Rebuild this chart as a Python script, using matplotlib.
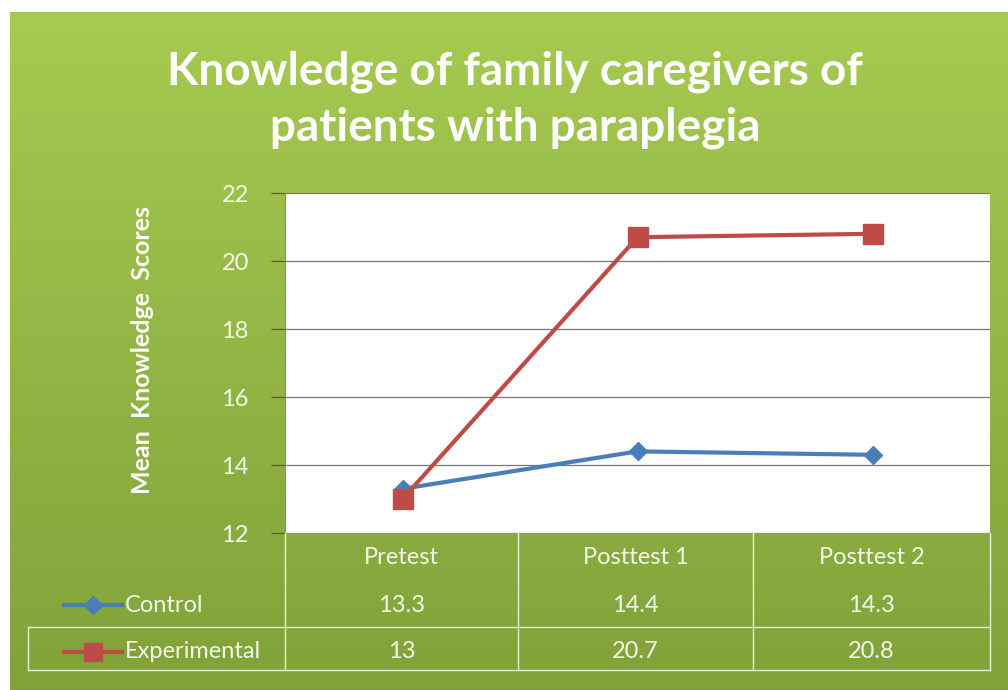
import numpy as np
import matplotlib.pyplot as plt
from matplotlib.lines import Line2D

categories = ["Pretest", "Posttest 1", "Posttest 2"]
control = [13.3, 14.4, 14.3]
experimental = [13.0, 20.7, 20.8]
control_labels = ["13.3", "14.4", "14.3"]
experimental_labels = ["13", "20.7", "20.8"]
yticks = [12, 14, 16, 18, 20, 22]
title = "Knowledge of family caregivers of\npatients with paraplegia"
ylabel = "Mean  Knowledge  Scores"

W, H = 1008, 690
fig = plt.figure(figsize=(W / 100, H / 100), dpi=100)
plt.rcParams['font.family'] = ['Lato', 'DejaVu Sans']

def fx(x):
    return x / W

def fy(y):
    return 1 - y / H

# gradient background
bg = fig.add_axes([fx(10), 0, fx(W - 10), fy(12)])
bg.set_axis_off()
top = np.array([0.655, 0.792, 0.318])
bot = np.array([0.502, 0.635, 0.224])
t = np.linspace(0, 1, 256)[:, None, None]
grad = top * (1 - t) + bot * t
grad = np.repeat(grad, 4, axis=1)
bg.imshow(grad, aspect='auto', extent=[0, 1, 0, 1], origin='upper')
bg.set_xlim(0, 1)
bg.set_ylim(0, 1)

txtc = '#f4f8e8'
fig.text(fx(515), fy(100), title, ha='center', va='center', color='white',
         fontsize=33, fontweight='bold', linespacing=1.4)

# plot area
x0, x1, y0, y1 = 285, 990, 193, 533
ax = fig.add_axes([fx(x0), fy(y1), fx(x1 - x0), (y1 - y0) / H])
ax.set_facecolor('white')
ax.plot(range(3), control, color='#4a7ebb', lw=3, marker='D', ms=9,
        markerfacecolor='#4a7ebb', zorder=3)
ax.plot(range(3), experimental, color='#be4b48', lw=3, marker='s', ms=14,
        markerfacecolor='#be4b48', zorder=4)
ax.set_xlim(-0.5, 2.5)
ax.set_ylim(12, 22)
ax.set_yticks(yticks)
ax.set_yticklabels([str(v) for v in yticks], color=txtc, fontsize=17)
ax.set_xticks([])
ax.grid(axis='y', color='#777777', lw=0.9)
ax.set_axisbelow(True)
ax.tick_params(axis='y', length=10, width=0.9, color='#555555', pad=16)
for s in ['top', 'right', 'bottom']:
    ax.spines[s].set_visible(False)
ax.spines['left'].set_color('#888888')
fig.text(fx(142), fy(350), ylabel, rotation=90, ha='center', va='center',
         color='white', fontsize=18, fontweight='bold')

# data table
cols = [285, 518, 753, 990]
lc = '#e8f0d8'
def hline(xa, xb, y):
    fig.add_artist(Line2D([fx(xa), fx(xb)], [fy(y), fy(y)], color=lc, lw=1))
def vline(x, ya, yb):
    fig.add_artist(Line2D([fx(x), fx(x)], [fy(ya), fy(yb)], color=lc, lw=1))

for c in cols:
    vline(c, 533, 670)
hline(28, 990, 627)
hline(28, 990, 670)
vline(28, 627, 670)

row_y = [557, 605, 652]
for i, cat in enumerate(categories):
    cx = (cols[i] + cols[i + 1]) / 2
    fig.text(fx(cx), fy(row_y[0]), cat, ha='center', va='center', color=txtc, fontsize=17)
    fig.text(fx(cx), fy(row_y[1]), control_labels[i], ha='center', va='center', color=txtc, fontsize=17)
    fig.text(fx(cx), fy(row_y[2]), experimental_labels[i], ha='center', va='center', color=txtc, fontsize=17)

# legend keys
fig.add_artist(Line2D([fx(64), fx(93), fx(122)], [fy(row_y[1])] * 3, color='#4a7ebb', lw=3,
                      marker='D', ms=9, markevery=[1], markerfacecolor='#4a7ebb'))
fig.add_artist(Line2D([fx(64), fx(93), fx(122)], [fy(row_y[2])] * 3, color='#be4b48', lw=3,
                      marker='s', ms=13, markevery=[1], markerfacecolor='#be4b48'))
fig.text(fx(125), fy(row_y[1]), "Control", ha='left', va='center', color=txtc, fontsize=17)
fig.text(fx(125), fy(row_y[2]), "Experimental", ha='left', va='center', color=txtc, fontsize=17)

fig.savefig('out.png', dpi=100)
